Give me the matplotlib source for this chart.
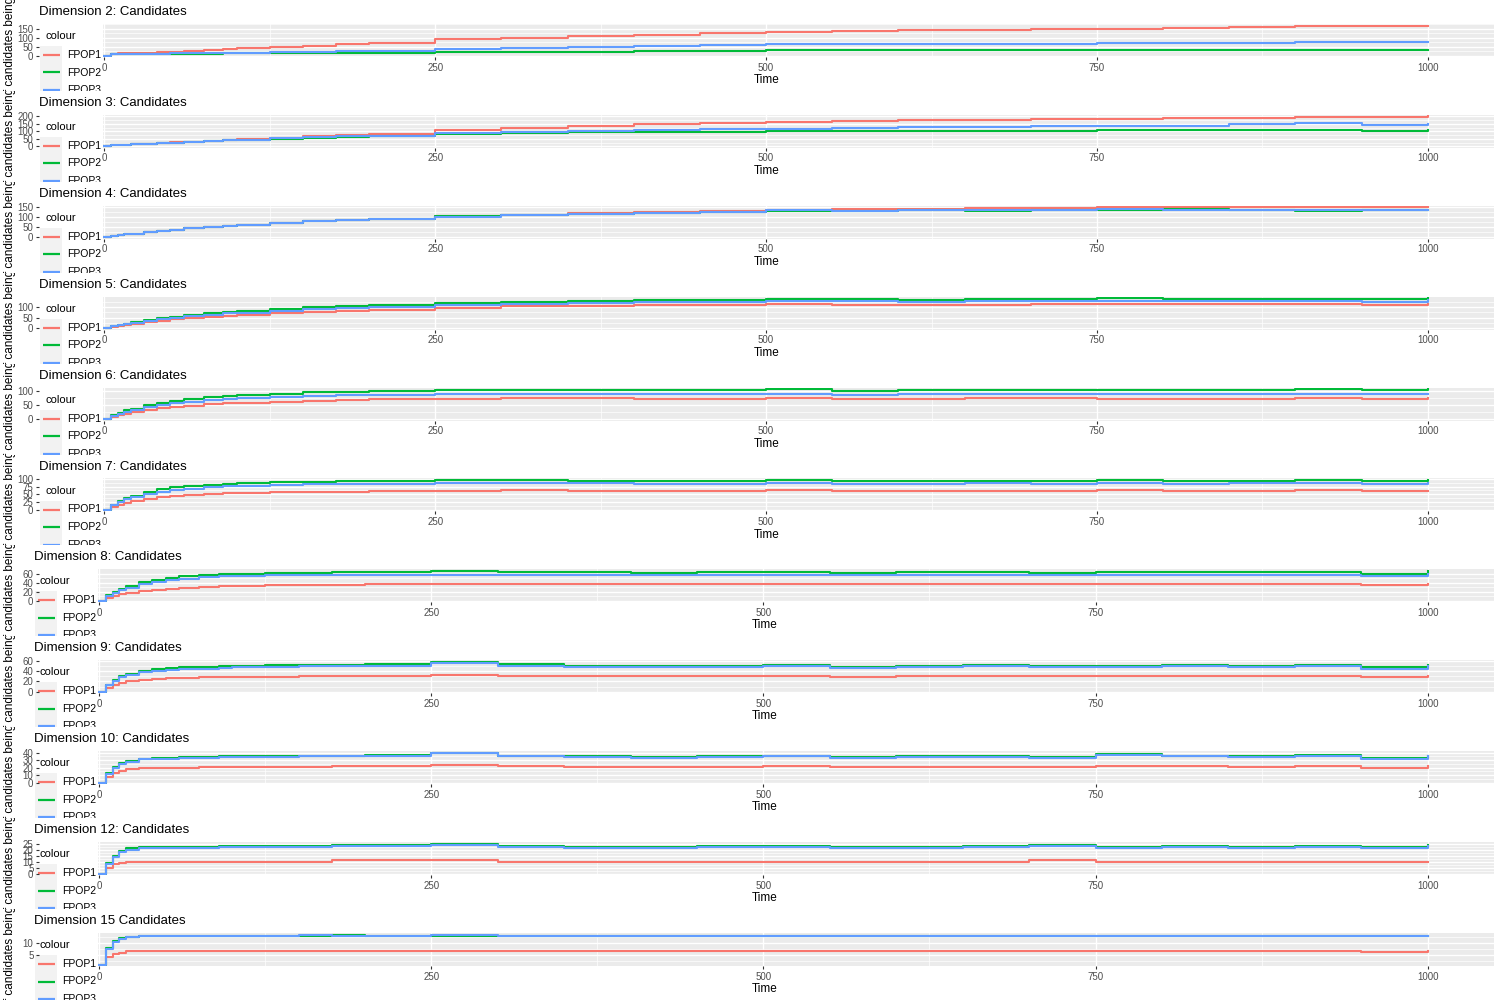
import numpy as np
import matplotlib
matplotlib.use("Agg")
import matplotlib.pyplot as plt
from matplotlib.patches import Rectangle

plt.rcParams['font.family'] = ['Liberation Sans', 'DejaVu Sans']

# sampled time points (values held until next point)
time = [0, 5, 10, 15, 20, 30, 40, 50, 60, 75, 90, 100, 125, 150, 175, 200,
        250, 300, 350, 400, 450, 500, 550, 600, 650, 700, 750, 800, 850, 900, 950, 1000]

titles = ["Dimension 2: Candidates", "Dimension 3: Candidates", "Dimension 4: Candidates",
          "Dimension 5: Candidates", "Dimension 6: Candidates", "Dimension 7: Candidates",
          "Dimension 8: Candidates", "Dimension 9: Candidates", "Dimension 10: Candidates",
          "Dimension 12: Candidates", "Dimension 15 Candidates"]

yticks = [[0, 50, 100, 150], [0, 50, 100, 150, 200], [0, 50, 100, 150], [0, 50, 100, 150],
          [0, 50, 100], [0, 25, 50, 75, 100], [0, 20, 40, 60], [0, 20, 40, 60],
          [0, 10, 20, 30, 40], [0, 5, 10, 15, 20, 25], [5, 10]]

fpop1 = [
    [0, 10, 12, 13, 14, 16, 18, 20, 25, 30, 35, 40, 48, 55, 62, 70, 90, 100, 108, 115, 125, 132, 135, 140, 142, 145, 150, 155, 160, 163, 165, 167],
    [0, 7, 9, 11, 13, 17, 21, 26, 30, 37, 44, 48, 58, 68, 77, 85, 110, 125, 138, 150, 158, 165, 170, 175, 178, 182, 185, 188, 190, 193, 196, 200],
    [0, 7, 11, 15, 19, 26, 33, 39, 45, 52, 59, 63, 72, 80, 87, 93, 105, 113, 120, 127, 132, 137, 140, 143, 145, 147, 150, 151, 150, 150, 151, 150],
    [0, 7, 12, 17, 21, 29, 36, 42, 47, 54, 60, 63, 71, 78, 83, 88, 97, 103, 107, 109, 110, 113, 112, 110, 112, 114, 115, 113, 115, 113, 109, 116],
    [0, 9, 15, 20, 25, 33, 39, 44, 48, 53, 57, 59, 63, 66, 69, 71, 74, 75, 75, 74, 74, 76, 72, 74, 75, 75, 74, 73, 74, 75, 73, 76],
    [0, 10, 17, 23, 28, 36, 41, 45, 48, 51, 53, 54, 56, 58, 59, 60, 62, 63, 62, 61, 62, 63, 61, 62, 62, 61, 63, 62, 62, 63, 60, 62],
    [0, 7, 11, 15, 18, 22, 25, 27, 29, 31, 32, 33, 34, 35, 36, 37, 38, 38, 38, 37, 37, 38, 37, 37, 38, 37, 37, 38, 37, 38, 35, 38],
    [0, 8, 13, 17, 20, 23, 25, 26, 27, 28, 28, 29, 29, 30, 30, 31, 33, 31, 30, 30, 30, 31, 29, 30, 31, 30, 30, 31, 30, 31, 28, 31],
    [0, 8, 13, 16, 18, 19, 20, 20, 20, 21, 21, 21, 21, 21, 22, 22, 24, 22, 21, 21, 21, 22, 21, 21, 21, 21, 22, 22, 21, 22, 20, 22],
    [0, 5, 8, 9, 10, 10, 10, 10, 10, 10, 10, 10, 10, 10, 11, 11, 11, 10, 10, 10, 10, 10, 10, 10, 10, 11, 10, 10, 10, 10, 10, 10],
    [1, 4, 5.5, 6, 6.5, 6.5, 6.5, 6.5, 6.5, 6.5, 6.5, 6.5, 6.5, 6.5, 6.5, 6.5, 6.8, 6.5, 6.5, 6.5, 6.5, 6.5, 6.5, 6.5, 6.5, 6.5, 6.5, 6.5, 6.5, 6.5, 6.2, 6.5],
]

fpop2 = [
    [0, 8, 8, 8, 8, 9, 9, 10, 10, 11, 12, 12, 13, 14, 15, 16, 18, 20, 22, 24, 26, 29, 29, 29, 29, 29, 30, 30, 30, 30, 30, 30],
    [0, 7, 9, 11, 13, 17, 21, 25, 29, 35, 40, 44, 51, 58, 64, 70, 84, 90, 94, 97, 99, 100, 101, 103, 104, 105, 107, 108, 110, 112, 105, 110],
    [0, 7, 11, 15, 19, 26, 33, 39, 45, 52, 59, 63, 72, 80, 87, 93, 105, 113, 119, 124, 128, 133, 132, 135, 131, 136, 138, 140, 137, 134, 139, 137],
    [0, 10, 16, 22, 28, 38, 47, 55, 62, 70, 78, 82, 92, 100, 106, 111, 120, 126, 130, 133, 135, 138, 137, 135, 136, 139, 141, 138, 139, 140, 136, 142],
    [0, 14, 23, 31, 38, 50, 59, 66, 72, 79, 84, 87, 92, 96, 99, 101, 104, 105, 105, 104, 105, 107, 102, 104, 106, 106, 104, 103, 105, 107, 104, 108],
    [0, 17, 28, 38, 46, 58, 66, 72, 76, 81, 84, 86, 89, 91, 92, 93, 95, 95, 94, 92, 93, 95, 92, 93, 94, 92, 95, 93, 94, 96, 92, 95],
    [0, 12, 20, 27, 33, 41, 47, 51, 54, 57, 59, 60, 61, 62, 63, 64, 65, 64, 63, 62, 63, 64, 62, 63, 64, 62, 63, 64, 63, 64, 60, 66],
    [0, 14, 23, 30, 35, 41, 44, 46, 47, 48, 49, 50, 51, 52, 52, 53, 58, 53, 50, 49, 50, 51, 48, 50, 51, 50, 50, 51, 50, 52, 47, 52],
    [0, 13, 21, 26, 29, 32, 33, 33, 34, 34, 35, 35, 35, 36, 36, 37, 40, 36, 35, 34, 35, 36, 34, 35, 35, 34, 38, 36, 35, 37, 33, 36],
    [0, 9, 15, 19, 21, 22, 22, 22, 22, 22, 23, 23, 23, 23, 24, 24, 25, 23, 22, 22, 23, 23, 22, 22, 23, 24, 22, 23, 22, 23, 22, 24],
    [1, 8, 11, 12, 12.5, 13, 13, 13, 13, 13, 13, 13, 13, 13, 13.5, 13, 13, 13, 13, 13, 13, 13, 13, 13, 13, 13, 13, 13, 13, 13, 13, 13],
]

fpop3 = [
    [0, 8, 9, 9, 10, 10, 11, 12, 13, 14, 15, 16, 18, 20, 23, 26, 35, 40, 46, 52, 58, 63, 63, 64, 65, 65, 67, 70, 72, 73, 75, 75],
    [0, 7, 9, 11, 13, 17, 21, 25, 29, 35, 41, 45, 53, 60, 66, 72, 88, 96, 103, 108, 114, 118, 122, 126, 130, 133, 136, 138, 148, 158, 145, 148],
    [0, 7, 11, 15, 19, 26, 33, 39, 45, 52, 59, 63, 72, 80, 87, 93, 104, 112, 118, 124, 129, 135, 134, 138, 136, 138, 140, 139, 139, 139, 137, 139],
    [0, 9, 15, 21, 26, 35, 43, 50, 56, 63, 70, 74, 83, 90, 96, 101, 110, 116, 120, 122, 124, 128, 127, 126, 127, 129, 130, 128, 129, 128, 125, 132],
    [0, 12, 20, 27, 33, 43, 51, 57, 62, 68, 72, 75, 80, 83, 86, 88, 90, 91, 92, 90, 90, 92, 88, 90, 91, 91, 90, 90, 90, 92, 90, 92],
    [0, 15, 25, 34, 41, 52, 59, 64, 68, 73, 76, 77, 80, 82, 83, 84, 86, 86, 85, 84, 84, 86, 83, 84, 85, 83, 86, 84, 85, 87, 83, 86],
    [0, 11, 18, 24, 29, 37, 42, 46, 49, 52, 54, 55, 56, 57, 58, 58, 58, 58, 57, 56, 57, 58, 56, 57, 58, 56, 57, 58, 57, 58, 54, 60],
    [0, 13, 21, 28, 32, 38, 41, 43, 44, 45, 46, 47, 48, 49, 49, 50, 55, 50, 48, 47, 48, 49, 46, 48, 49, 48, 48, 49, 48, 50, 45, 50],
    [0, 12, 20, 25, 28, 31, 32, 32, 33, 33, 34, 34, 34, 35, 35, 36, 39, 35, 34, 33, 34, 35, 33, 34, 34, 33, 37, 35, 34, 36, 32, 35],
    [0, 8, 14, 18, 20, 21, 21, 21, 21, 21, 22, 22, 22, 22, 23, 23, 24, 22, 21, 21, 22, 22, 21, 21, 22, 23, 21, 22, 21, 22, 21, 23],
    [1, 7.5, 10.5, 11.5, 12.5, 13, 13, 13, 13, 13, 13, 13, 13, 13.5, 13, 13, 13.5, 13, 13, 13, 13, 13, 13, 13, 13, 13, 13, 13, 13, 13, 13, 13],
]

names = ["FPOP1", "FPOP2", "FPOP3"]
colors = ["#F8766D", "#00BA38", "#619CFF"]

W, H = 1500, 1000
row_h = 90.9
fig = plt.figure(figsize=(15, 10), dpi=100)

for k, title in enumerate(titles):
    ty = 12 + row_h * k
    top = ty - 12
    shift = 0 if k < 6 else 5

    # white strip for the whole row, used to clip the legend / labels
    row = fig.add_axes([0, 1 - (top + row_h) / H, 1, row_h / H])
    row.set_xlim(0, W)
    row.set_ylim(top + row_h, top)
    row.set_xticks([])
    row.set_yticks([])
    for s in row.spines.values():
        s.set_visible(False)

    row.text(39 - shift, ty, title, fontsize=9.5, va='center', ha='left', clip_on=True)
    row.text(10, ty + 28, "Number of candidates being considered", rotation=90,
             fontsize=8.5, ha='center', va='center', clip_on=True)
    row.text(45 - shift, ty + 24, "colour", fontsize=8, va='center', clip_on=True)
    row.add_patch(Rectangle((40 - shift, ty + 34), 22, 60, facecolor='#F2F2F2',
                            edgecolor='none', clip_on=True))
    for i in range(3):
        yy = ty + 43 + 17.5 * i
        row.plot([43 - shift, 60 - shift], [yy, yy], color=colors[i], lw=1.6,
                 solid_capstyle='butt', clip_on=True)
        row.text(67 - shift, yy, names[i], fontsize=7.5, va='center', clip_on=True)

    # data panel
    left = 103 - shift
    ax = fig.add_axes([left / W, 1 - (ty + 45) / H, (1494 - left) / W, 33 / H])
    ax.set_facecolor('#EBEBEB')
    for s in ax.spines.values():
        s.set_visible(False)
    for i, series in enumerate([fpop1, fpop2, fpop3]):
        ax.step(time, series[k], where='post', color=colors[i], lw=1.5)

    allv = fpop1[k] + fpop2[k] + fpop3[k]
    lo, hi = min(allv), max(allv)
    pad = 0.05 * (hi - lo)
    ylim = (lo - pad, hi + pad)
    ax.set_xlim(-1, 1050)

    ax.set_xticks([0, 250, 500, 750, 1000])
    ax.set_xticks([125, 375, 625, 875], minor=True)
    yt = yticks[k]
    ax.set_yticks(yt)
    step = yt[1] - yt[0]
    ax.set_yticks([v + step / 2 for v in [yt[0] - step] + yt], minor=True)
    ax.set_ylim(ylim)
    ax.grid(which='major', color='white', lw=1.0)
    ax.grid(which='minor', color='white', lw=0.5)
    ax.set_axisbelow(True)
    ax.tick_params(which='major', length=2.5, width=0.8, color='#333333',
                   labelsize=7, labelcolor='#4D4D4D', pad=1.5)
    ax.tick_params(axis='y', which='both', left=False, labelleft=False)
    ax.tick_params(which='minor', length=0)

    # the y axis sits left of the legend
    yax = fig.add_axes([39 / W, 1 - (ty + 45) / H, 0.0005, 33 / H])
    yax.set_facecolor('none')
    for s in yax.spines.values():
        s.set_visible(False)
    yax.set_xticks([])
    yax.set_yticks(yt)
    yax.set_ylim(ylim)
    yax.tick_params(axis='y', length=2.5, width=0.8, color='#333333',
                    labelsize=7, labelcolor='#4D4D4D', pad=1.5)

    tx = left + 1 + 501 / 1051 * (1494 - left)
    row.text(tx, ty + 68, "Time", fontsize=8.5, ha='center', va='center', clip_on=True)

fig.savefig("out.png", dpi=100)
